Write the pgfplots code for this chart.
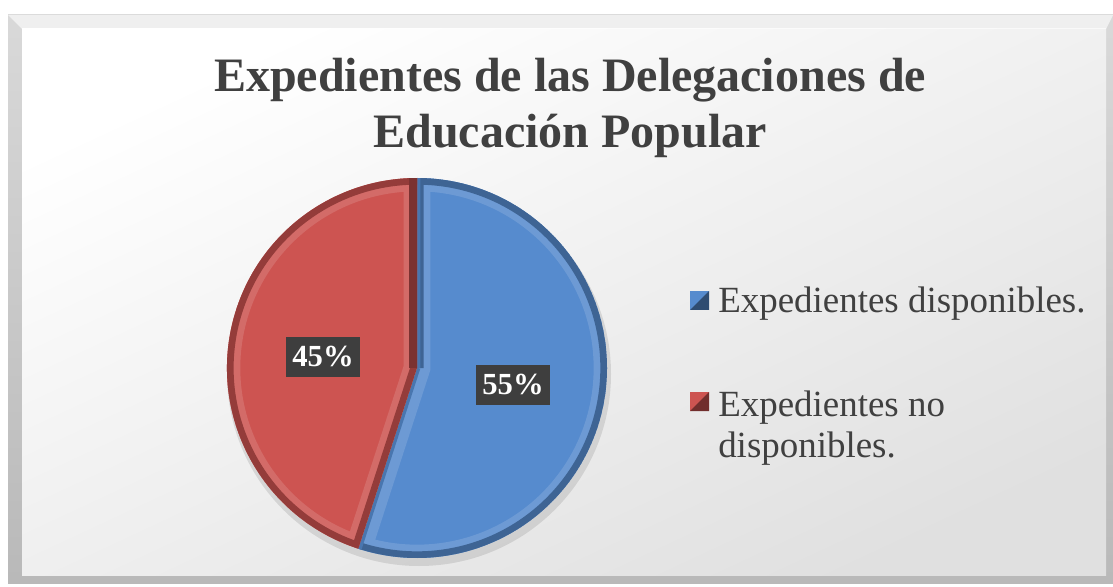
\documentclass[border=0pt]{standalone}
\usepackage{fontspec}
\setmainfont{Liberation Serif}
\usepackage{pgfplots}
\usepackage{pgfplotstable}
\pgfplotsset{compat=1.18}
\definecolor{pieblue}{RGB}{86,139,206}
\definecolor{piered}{RGB}{205,84,81}
\definecolor{txt}{RGB}{64,64,64}
\definecolor{lblbox}{RGB}{62,62,62}
\pgfplotstableread{
label value
disp 55
nodisp 45
}\pietable
\begin{document}
\begin{tikzpicture}
\pgfplotstablegetelem{0}{value}\of\pietable \let\va\pgfplotsretval
\pgfplotstablegetelem{1}{value}\of\pietable \let\vb\pgfplotsretval
\pgfmathsetmacro{\aend}{90-3.6*\va}
\pgfmathsetmacro{\bend}{\aend-3.6*\vb}
\begin{axis}[x=0.75pt,y=0.75pt,xmin=0,xmax=1113,ymin=0,ymax=586,hide axis,clip=false]
% canvas
\fill[white] (axis cs:0,0) rectangle (axis cs:1113,586);
% frame with bevel
\shade[top color=gray!30, bottom color=gray!55] (axis cs:8,3) rectangle (axis cs:1113,571);
\shade[top color=white, bottom color=gray!24, shading angle=25] (axis cs:22,11) rectangle (axis cs:1106,557);
\fill[white, opacity=0.6] (axis cs:8,571) -- (axis cs:1113,571) -- (axis cs:1106,557) -- (axis cs:22,557) -- cycle;
% title
\node[anchor=base, text=txt, font=\bfseries\fontsize{36}{43}\selectfont] at (axis cs:570,494) {Expedientes de las Delegaciones de};
\node[anchor=base, text=txt, font=\bfseries\fontsize{36}{43}\selectfont] at (axis cs:570,438) {Educación Popular};
% shadow
\fill[black, opacity=0.10] (axis cs:419,212) circle[radius=144pt];
% blue sector
\begin{scope}
\clip (axis cs:417,218) -- ++(90:142.5pt) arc[start angle=90,end angle=\aend,radius=142.5pt] -- cycle;
\fill[pieblue] (axis cs:417,218) -- ++(90:142.5pt) arc[start angle=90,end angle=\aend,radius=142.5pt] -- cycle;
\draw[pieblue!70!white, line width=20pt, opacity=0.45] (axis cs:417,218) -- ++(90:142.5pt) arc[start angle=90,end angle=\aend,radius=142.5pt] -- cycle;
\draw[pieblue!72!black, line width=10pt] (axis cs:417,218) -- ++(90:142.5pt) arc[start angle=90,end angle=\aend,radius=142.5pt];
\draw[pieblue!85!black, line width=5pt] (axis cs:417,218) -- ++(\aend:142.5pt) (axis cs:417,218) -- ++(90:142.5pt);
\end{scope}
% red sector
\begin{scope}
\clip (axis cs:417,218) -- ++(\aend:142.5pt) arc[start angle=\aend,end angle=\bend,radius=142.5pt] -- cycle;
\fill[piered] (axis cs:417,218) -- ++(\aend:142.5pt) arc[start angle=\aend,end angle=\bend,radius=142.5pt] -- cycle;
\draw[piered!70!white, line width=20pt, opacity=0.45] (axis cs:417,218) -- ++(\aend:142.5pt) arc[start angle=\aend,end angle=\bend,radius=142.5pt] -- cycle;
\draw[piered!72!black, line width=10pt] (axis cs:417,218) -- ++(\aend:142.5pt) arc[start angle=\aend,end angle=\bend,radius=142.5pt];
\draw[piered!60!black, line width=12pt] (axis cs:417,218) -- ++(\bend:142.5pt);
\end{scope}
% data labels
\node[fill=lblbox, text=white, font=\bfseries\fontsize{23}{26}\selectfont, minimum width=56pt, minimum height=30.5pt, inner sep=0pt] at (axis cs:513,201) {\va\%};
\node[fill=lblbox, text=white, font=\bfseries\fontsize{23}{26}\selectfont, minimum width=56pt, minimum height=30pt, inner sep=0pt] at (axis cs:323,229) {\vb\%};
% legend
\fill[pieblue] (axis cs:690,276) rectangle (axis cs:709,295);
\fill[pieblue!55!black] (axis cs:690,276) -- (axis cs:709,276) -- (axis cs:709,295) -- cycle;
\fill[piered] (axis cs:690,175) rectangle (axis cs:709,194);
\fill[piered!55!black] (axis cs:690,175) -- (axis cs:709,175) -- (axis cs:709,194) -- cycle;
\node[anchor=base west, inner sep=0pt, text=txt, font=\fontsize{27.7}{31}\selectfont] at (axis cs:718,273) {Expedientes disponibles.};
\node[anchor=base west, inner sep=0pt, text=txt, font=\fontsize{27.7}{31}\selectfont] at (axis cs:718,170) {Expedientes no};
\node[anchor=base west, inner sep=0pt, text=txt, font=\fontsize{27.7}{31}\selectfont] at (axis cs:718,129) {disponibles.};
\end{axis}
\end{tikzpicture}
\end{document}
